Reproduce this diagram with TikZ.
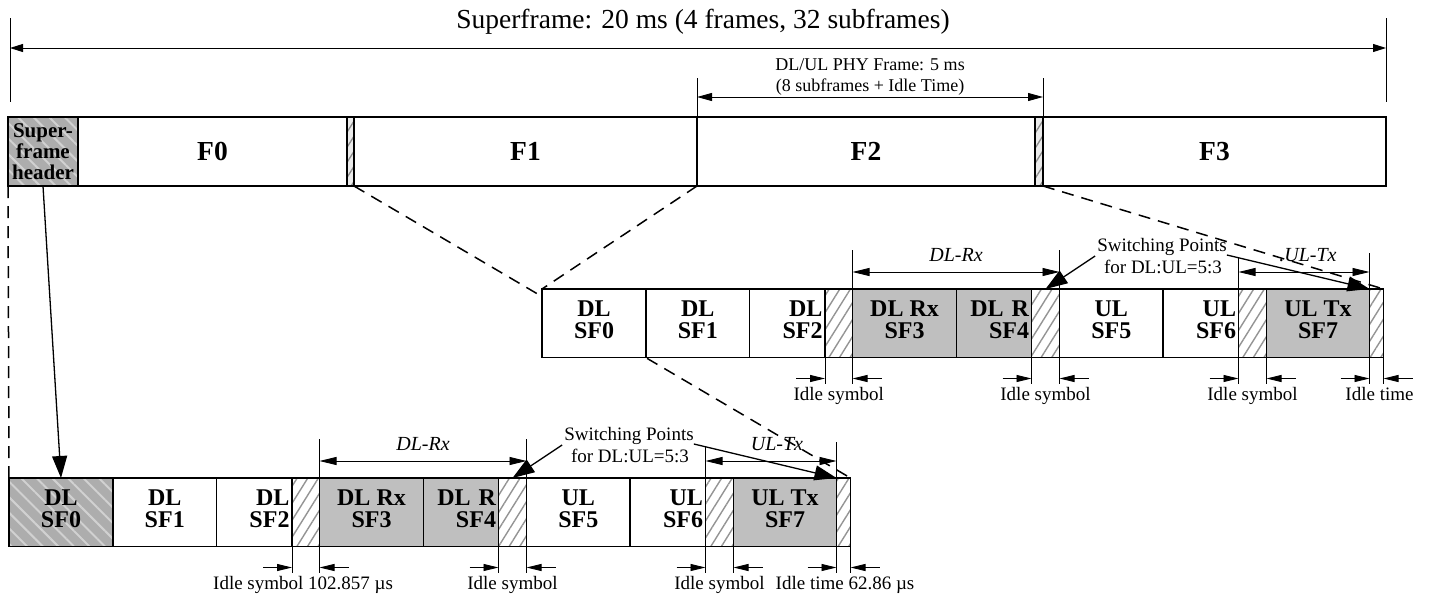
\documentclass[tikz,border=0pt]{standalone}
\usepackage{fontspec}
\setmainfont{Liberation Serif}
\usetikzlibrary{arrows.meta,patterns.meta,calc}
\pgfdeclarelayer{bg}
\pgfsetlayers{bg,main}
\newcommand\dstrut{\rule[-7pt]{0pt}{7pt}}
\newcommand\buildrow[4]{%
  \node[cell,#4,minimum width=104pt] (#10) at (#2,#3) {DL\\SF0};
  \node[cell,minimum width=103.5pt] (#11) at (#10.north east) {DL\\SF1};
  \node[cellr,text width=70.5pt] (#12) at (#11.north east) {DL\\SF2};
  \node[idlebox,minimum width=27.5pt] (#12i) at (#12.north east) {};
  \node[cell,graycell,minimum width=104pt] (#13) at (#12i.north east) {DL Rx\\SF3};
  \node[cellr,graycell,text width=70pt] (#14) at (#13.north east) {DL R\\SF4};
  \node[idlebox,minimum width=28pt] (#14i) at (#14.north east) {};
  \node[cell,minimum width=103.5pt] (#15) at (#14i.north east) {UL\\SF5};
  \node[cellr,text width=70.5pt] (#16) at (#15.north east) {UL\\SF6};
  \node[idlebox,minimum width=28pt] (#16i) at (#16.north east) {};
  \node[cell,graycell,minimum width=103pt] (#17) at (#16i.north east) {UL Tx\\SF7};
  \node[idlebox,minimum width=14pt] (#17i) at (#17.north east) {};
}
\newcommand\idlemark[1]{%
  \draw[thinln] (#1.south west) -- ++(0,26);
  \draw[thinln] (#1.south east) -- ++(0,26);
  \draw[smallarr] ($(#1.south west)+(-29,21)$) -- ($(#1.south west)+(0,21)$);
  \draw[smallarr] ($(#1.south east)+(29,21)$) -- ($(#1.south east)+(0,21)$);
}
\newcommand\rowannot[1]{%
  % DL-Rx dimension
  \draw[thinln] (#13.north west) ++(0,-39) -- ++(0,133);
  \draw[thinln] (#14i.north east) ++(0,-39) -- ++(0,133);
  \draw[dimarr] ($(#13.north west)+(0,-17)$) -- ($(#14i.north east)+(0,-17)$);
  % UL-Tx dimension
  \draw[thinln] (#16i.north west) ++(0,-31) -- ++(0,125);
  \draw[thinln] (#17.north east) ++(0,-36) -- ++(0,130);
  \draw[dimarr] ($(#16i.north west)+(0,-17)$) -- ($(#17.north east)+(0,-17)$);
  % switching points
  \node[ann,anchor=base] (#1spA) at ($(#10.north west)+(620,-38)$) {Switching Points};
  \node[ann,anchor=base] (#1spB) at ($(#10.north west)+(621,-16)$) {for DL:UL=5:3};
  \draw[bigarr] ($(#1spA.base west)+(-2,5)$) -- (#14i.north);
  \draw[bigarr] ($(#1spA.base east)+(0,4)$) -- (#17.north east);
  % idle marks
  \idlemark{#12i}\idlemark{#14i}\idlemark{#16i}\idlemark{#17i}
}
\begin{document}
\begin{tikzpicture}[x=1pt,y=-1pt,
  cell/.style={draw,line width=1.6pt,outer sep=0pt,inner sep=0pt,anchor=north west,
    minimum height=68.5pt,fill=white,align=center,
    font=\bfseries\fontsize{24}{22}\selectfont,execute at end node=\dstrut},
  cellr/.style={cell,align=right,inner xsep=2.5pt},
  graycell/.style={fill=black!25},
  hdrfill/.style={preaction={fill=black!32},
    pattern={Lines[angle=-45,distance=11pt,line width=2pt]},pattern color=white!82!black},
  idlebox/.style={draw,line width=1.6pt,outer sep=0pt,inner sep=0pt,anchor=north west,
    minimum height=68.5pt,preaction={fill=white},
    pattern={Lines[angle=58,distance=9pt,line width=1.4pt]},pattern color=black!42},
  frm/.style={draw,line width=2.8pt,outer sep=0pt,inner sep=0pt,anchor=north west,
    minimum height=69pt,fill=white,font=\bfseries\fontsize{27.5}{27}\selectfont},
  frmidle/.style={draw,line width=1.4pt,outer sep=0pt,inner sep=0pt,anchor=north west,
    minimum height=69pt,preaction={fill=black!8},
    pattern={Lines[angle=58,distance=8pt,line width=1.3pt]},pattern color=black!45},
  thinln/.style={line width=0.9pt},
  dashline/.style={line width=1.5pt,dash pattern=on 12pt off 8pt},
  dimarr/.style={line width=0.9pt,{Triangle[length=17pt,width=8pt]}-{Triangle[length=17pt,width=8pt]}},
  sfarr/.style={line width=0.9pt,{Triangle[length=13pt,width=8pt]}-{Triangle[length=13pt,width=8pt]}},
  phyarr/.style={line width=0.9pt,{Triangle[length=15pt,width=8pt]}-{Triangle[length=15pt,width=8pt]}},
  smallarr/.style={line width=0.9pt,-{Triangle[length=15pt,width=7pt]}},
  bigarr/.style={line width=1.3pt,-{Triangle[length=22pt,width=15pt]}},
  ann/.style={inner sep=0pt,font=\fontsize{19}{21}\selectfont},
  annit/.style={inner sep=0pt,font=\itshape\fontsize{20}{21}\selectfont}]
\useasboundingbox (0,0) rectangle (1429,597);

% title and superframe dimension
\node[anchor=base,inner sep=0pt,font=\fontsize{27.5}{30}\selectfont] (title) at (703,28)
  {Superframe: 20 ms (4 frames, 32 subframes)};
\coordinate (sfL) at (10,48);
\coordinate (sfR) at (1386,48);
\draw[thinln] (sfL) ++(0,-30) -- ++(0,84);
\draw[thinln] (sfR) ++(0,-30) -- ++(0,84);
\draw[sfarr] (sfL) -- (sfR);

% frame bar
\node[frm,minimum width=70pt,hdrfill,align=center,font=\bfseries\fontsize{21}{21}\selectfont]
  (hdr) at (8,117) {Super-\\frame\\header};
\node[frm,minimum width=269pt] (F0) at (hdr.north east) {F0};
\node[frmidle,minimum width=7pt] (s1) at (F0.north east) {};
\node[frm,minimum width=343pt] (F1) at (s1.north east) {F1};
\node[frm,minimum width=338pt] (F2) at (F1.north east) {F2};
\node[frmidle,minimum width=8pt] (s2) at (F2.north east) {};
\node[frm,minimum width=343pt] (F3) at (s2.north east) {F3};

% PHY frame dimension
\draw[thinln] (F2.north west) -- ++(0,-39);
\draw[thinln] (s2.north east) -- ++(0,-39);
\draw[phyarr] ($(F2.north west)+(0,-20)$) -- ($(s2.north east)+(0,-20)$);
\node[anchor=base,inner sep=0pt,font=\fontsize{18}{21}\selectfont] (phy1) at (870,70) {DL/UL PHY Frame: 5 ms};
\node[anchor=base,inner sep=0pt,font=\fontsize{18}{21}\selectfont] (phy2) at (870,91) {(8 subframes + Idle Time)};

% subframe rows
\buildrow{m}{542}{289}{}
\buildrow{b}{9}{478}{hdrfill}

% expansion lines (behind)
\begin{pgfonlayer}{bg}
\draw[dashline] (F2.south west) -- (m0.north west);
\draw[dashline] (s2.south east) -- (m7i.north east);
\draw[dashline] (hdr.south west) -- (b0.north west);
\draw[dashline] (s1.south east) -- (b7i.north east);
\end{pgfonlayer}
\draw[bigarr] (hdr.south) -- (b0.north);

% annotations
\rowannot{m}
\rowannot{b}
\node[annit,anchor=base] (mrx) at ($(m3.north west)!0.5!(m4i.north east)+(0,-28)$) {DL-Rx};
\node[annit,anchor=base] (mtx) at ($(m6i.north west)!0.5!(m7.north east)+(4,-28)$) {.UL-Tx};
\node[annit,anchor=base] (brx) at ($(b3.north west)!0.5!(b4i.north east)+(0,-28)$) {DL-Rx};
\node[annit,anchor=base] (btx) at ($(b6i.north west)!0.5!(b7.north east)+(6,-28)$) {UL-Tx};

\node[ann,anchor=base] (mi1) at ($(m2i.south)+(0,43)$) {Idle symbol};
\node[ann,anchor=base] (mi2) at ($(m4i.south)+(0,43)$) {Idle symbol};
\node[ann,anchor=base] (mi3) at ($(m6i.south)+(0,43)$) {Idle symbol};
\node[ann,anchor=base] (mi4) at ($(m7i.south)+(3,43)$) {Idle time};
\node[ann,anchor=base west] (bi1) at ($(b2i.south west)+(-79,43)$) {Idle symbol 102.857 µs};
\node[ann,anchor=base] (bi2) at ($(b4i.south)+(0,43)$) {Idle symbol};
\node[ann,anchor=base] (bi3) at ($(b6i.south)+(0,43)$) {Idle symbol};
\node[ann,anchor=base west] (bi4) at ($(b7i.south west)+(-61,43)$) {Idle time 62.86 µs};
\end{tikzpicture}
\end{document}
